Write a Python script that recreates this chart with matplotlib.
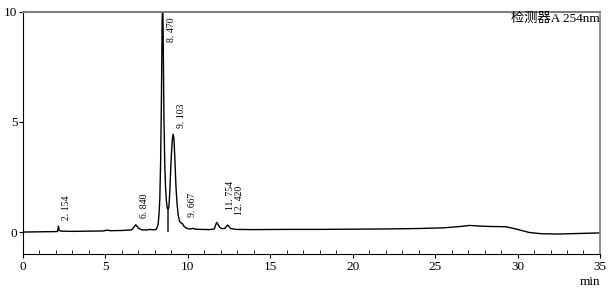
import matplotlib
matplotlib.use("Agg")
import matplotlib.pyplot as plt
from matplotlib.ticker import MultipleLocator

plt.rcParams['font.family'] = ['Liberation Serif', 'Noto Sans CJK SC', 'DejaVu Sans']

# trace (min, signal)
time_min = [0.0, 1.0, 2.0, 2.10, 2.15, 2.20, 2.30, 3.0, 4.0, 4.9, 5.1, 5.3, 6.0, 6.6,
            6.84, 7.0, 7.2, 7.5, 7.7, 7.9, 8.05, 8.10, 8.20, 8.25, 8.30, 8.35, 8.40,
            8.44, 8.47, 8.50, 8.55, 8.60, 8.65, 8.70, 8.75, 8.80, 8.85, 8.90, 8.95,
            9.00, 9.06, 9.11, 9.16, 9.22, 9.28, 9.35, 9.42, 9.50, 9.58, 9.67, 9.75,
            9.85, 10.0, 10.2, 10.3, 10.45, 10.8, 11.3, 11.6, 11.75, 11.95, 12.1,
            12.25, 12.42, 12.6, 12.9, 14.0, 16.0, 18.0, 20.0, 22.0, 24.0, 25.5, 26.5,
            27.1, 27.7, 28.5, 29.3, 30.0, 30.7, 31.5, 32.5, 33.5, 35.0]
signal = [0.0, 0.01, 0.02, 0.03, 0.27, 0.08, 0.04, 0.03, 0.04, 0.05, 0.09, 0.06, 0.07, 0.10,
          0.33, 0.18, 0.10, 0.09, 0.12, 0.10, 0.11, 0.14, 0.35, 0.80, 1.50, 3.2, 6.2,
          9.5, 11.0, 9.2, 5.2, 3.1, 2.0, 1.4, 1.1, 1.0, 1.15, 1.75, 2.65,
          3.50, 4.20, 4.45, 4.20, 3.20, 2.05, 1.25, 0.75, 0.48, 0.42, 0.38, 0.28,
          0.20, 0.15, 0.14, 0.17, 0.13, 0.12, 0.11, 0.14, 0.44, 0.20, 0.15,
          0.17, 0.32, 0.16, 0.12, 0.11, 0.12, 0.12, 0.13, 0.14, 0.16, 0.19, 0.25,
          0.30, 0.27, 0.25, 0.24, 0.12, -0.02, -0.08, -0.09, -0.07, -0.04]

peak_labels = ["2. 154", "6. 840", "8. 470", "9. 103", "9. 667", "11. 754", "12. 420"]
label_x = [2.67, 7.35, 9.02, 9.64, 10.28, 12.60, 13.16]
label_y = [0.55, 0.64, 9.73, 4.71, 0.70, 1.01, 0.79]
drop_time = 8.82
drop_top = 1.0

fig = plt.figure(figsize=(6.08, 2.91), dpi=100)
ax = fig.add_axes([0.0378, 0.127, 0.949, 0.832])

ax.plot(time_min, signal, color='black', lw=1.0)
ax.plot([drop_time, drop_time], [0.05, drop_top], color='#404040', lw=1.3)

for lx, ly, txt in zip(label_x, label_y, peak_labels):
    va = 'top' if ly > 9 else 'bottom'
    ax.text(lx, ly, txt, rotation=90, ha='center', va=va, fontsize=7.0)

ax.text(1.0, 0.998, "检测器A 254nm", transform=ax.transAxes, ha='right', va='top',
        fontsize=9.5)

ax.set_xlim(0, 35)
ax.set_ylim(-1, 10)
ax.xaxis.set_major_locator(MultipleLocator(5))
ax.xaxis.set_minor_locator(MultipleLocator(1))
ax.set_yticks([0, 5, 10])
ax.tick_params(axis='x', which='major', direction='out', length=3, labelsize=9.5, pad=2)
ax.tick_params(axis='x', which='minor', direction='in', length=3)
ax.tick_params(axis='y', which='major', direction='out', length=3, labelsize=9.5, pad=1)

for side in ['top', 'right']:
    ax.spines[side].set_color('#808080')
ax.spines['top'].set_linewidth(1.5)
ax.spines['right'].set_linewidth(1.2)

fig.text(0.987, 0.01, "min", ha='right', va='bottom', fontsize=9.5)

fig.savefig("out.png", dpi=100)
